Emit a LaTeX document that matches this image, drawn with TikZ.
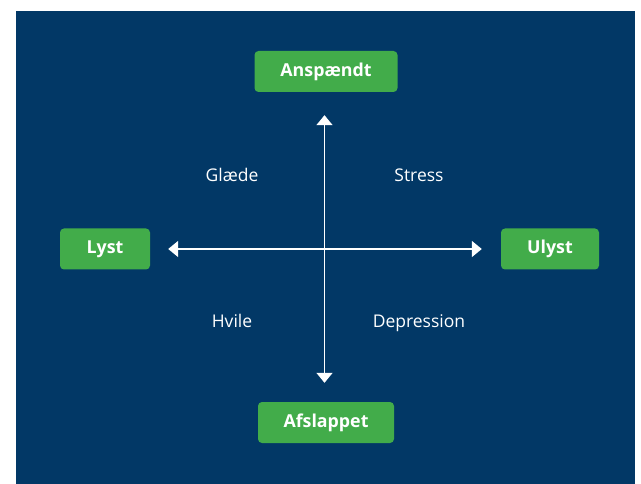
\documentclass[tikz,border=0pt]{standalone}
\usepackage{fontspec}
\setmainfont{Open Sans}
\usetikzlibrary{arrows.meta, positioning}
\definecolor{navy}{RGB}{2,56,102}
\definecolor{leaf}{RGB}{66,172,74}

\begin{document}
\begin{tikzpicture}[
    x=1pt, y=-1pt,
    pole/.style={rectangle, fill=leaf, rounded corners=4pt, minimum height=41pt, inner sep=0pt, text=white, font=\fontsize{17.8}{21}\selectfont\bfseries},
    quadrant/.style={anchor=base, text=white, font=\fontsize{17.5}{21}\selectfont},
    axis/.style={{Triangle[length=10pt,width=16pt]}-{Triangle[length=10pt,width=16pt]}, white, line width=1.6pt}
]
    \useasboundingbox (0,0) rectangle (641,484);
    \fill[navy] (16,11) rectangle (635,484);

    \node[pole, minimum width=143pt] (anspaendt) at (326,71.5) {Anspændt};
    \node[pole, minimum width=136pt] (afslappet) at (326,422.5) {Afslappet};
    \node[pole, minimum width=90pt] (lyst) at (105,249) {Lyst};
    \node[pole, minimum width=98pt] (ulyst) at (550,249) {Ulyst};

    \node[quadrant] (glaede) at (232,182) {Glæde};
    \node[quadrant] (stress) at (419,182) {Stress};
    \node[quadrant] (hvile) at (232,328) {Hvile};
    \node[quadrant] (depression) at (419,328) {Depression};

    \draw[axis, shorten <=18pt, shorten >=19pt] (lyst) -- (ulyst);
    \draw[axis, shorten <=23pt, shorten >=19pt] ([xshift=-1.5pt]anspaendt.south) -- ([xshift=-1.5pt]afslappet.north);
\end{tikzpicture}
\end{document}
